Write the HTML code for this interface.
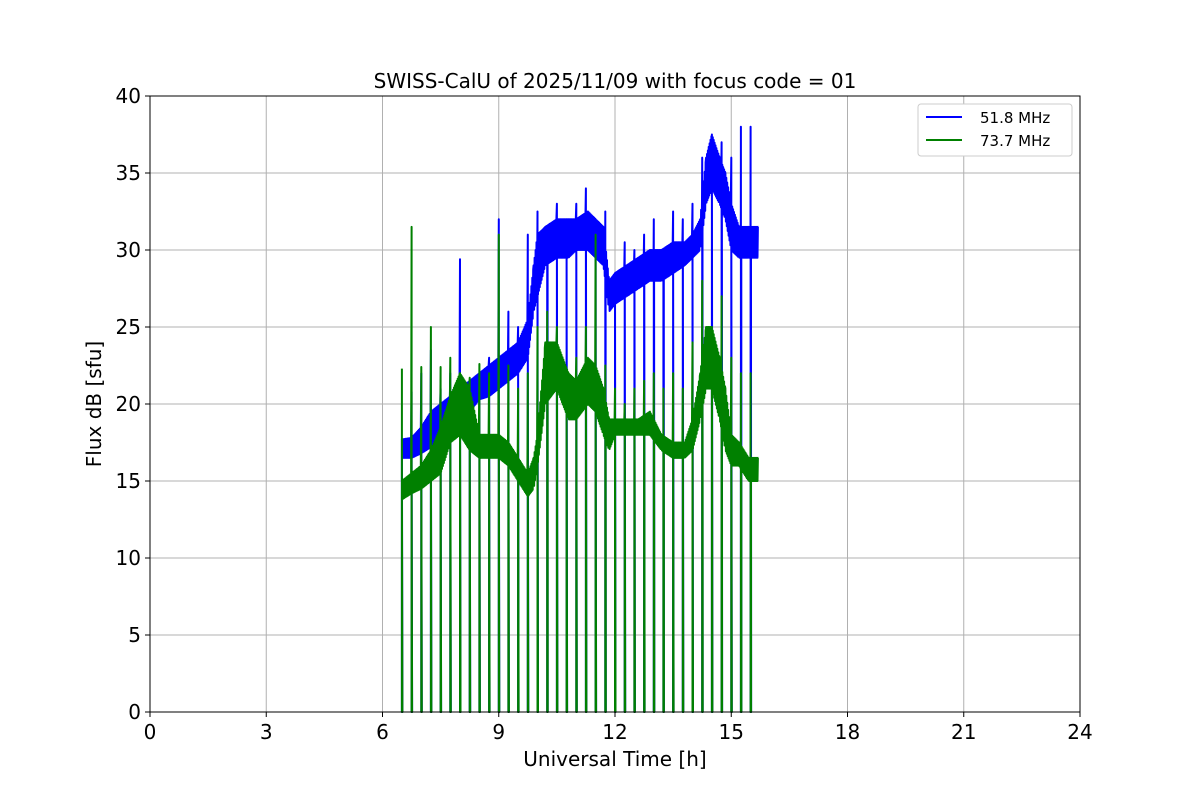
<!DOCTYPE html>
<html><head><meta charset="utf-8"><style>
body{margin:0;background:#fff;font-family:"Liberation Sans","DejaVu Sans",sans-serif}
svg text{font-family:"DejaVu Sans","Liberation Sans",sans-serif}
</style></head><body>
<svg id="chart" width="1200" height="800" xmlns="http://www.w3.org/2000/svg"></svg>
<script>
const xTicks=[0,3,6,9,12,15,18,21,24];
const yTicks=[0,5,10,15,20,25,30,35,40];
const times=[6.5,6.75,7.0,7.25,7.5,7.75,8.0,8.25,8.5,8.75,9.0,9.25,9.5,9.75,9.9,10.0,10.2,10.5,10.8,11.0,11.3,11.5,11.7,11.85,12.0,12.3,12.6,12.9,13.2,13.5,13.8,14.0,14.2,14.35,14.5,14.7,14.85,15.0,15.2,15.45,15.7];
const blueLo=[16.5,16.5,16.8,17.2,17.8,18.5,19,19.5,20.3,20.5,21,21.5,22,23,26,27,29,29.5,29.5,30,30,29.5,29,26,26.5,27,27.5,28,28,28.5,29,29.5,30,33,34,33,32,30,29.5,29.5,29.5];
const blueHi=[17.7,17.8,18.5,19.5,20,20.5,21,21.5,22,22.5,23,23.5,24,25.5,29,31,31.5,32,32,32,32.5,32,31.5,28,28.5,29,29.5,30,30,30.5,30.5,31,32,36,37.5,36,35,33,31.5,31.5,31.5];
const greenLo=[13.8,14.2,14.5,15,15.5,17.5,18,17,16.5,16.5,16.5,16,15,14,14.5,16,20,21,19,19,20,19.5,18,17,18,18,18,18,17,16.5,16.5,17,19,21,21,19,17,16,16,15,15];
const greenHi=[15,15.5,16,17,18.5,20.5,22,21,18,18,18,17.5,16.5,15.5,16.5,18,24,24,22,21.5,23,22.5,21,19,19,19,19,19.5,18,17.5,17.5,19,22,25,25,23,21,18,17.5,16.5,16.5];
const spikeStart=6.5, spikeStep=0.25;
const bluePeaks=[17.7,20.8,22,23.5,21,22,29.4,21,22,23,32,26,25,31,32.5,31,33,32,33,34,31,32.5,28,30.5,30,31,32,30,32.5,32,33,36,36.5,37,36,38,38];
const greenPeaks=[22.3,31.5,22.4,25,22.4,23,22,21.7,22.6,22,31,22.5,21,22,25,26,25,21.5,23,25,31,22.5,21,20,21,21.5,22,21,22,21,24,28,25,27,23,22,22];
const svg=document.getElementById('chart');
const NS='http://www.w3.org/2000/svg';
const L=150,R=1080,T=96,B=712;
const xs=t=>L+(t/24)*(R-L);
const ys=v=>B-(v/40)*(B-T);
function mk(tag,attrs){const e=document.createElementNS(NS,tag);for(const k in attrs)e.setAttribute(k,attrs[k]);svg.appendChild(e);return e;}
// grid
xTicks.forEach(t=>{const g=mk('line',{x1:xs(t),x2:xs(t),y1:T,y2:B,stroke:'#b0b0b0','stroke-width':1});

});
yTicks.forEach(v=>{const g=mk('line',{x1:L,x2:R,y1:ys(v),y2:ys(v),stroke:'#b0b0b0','stroke-width':1});

});
function series(lo,hi,peaks,color,name){
  let pts=[];
  const nSp=peaks.length;
  const spikes=peaks.map((p,i)=>spikeStart+i*spikeStep);
  let si=0;
  for(let i=0;i<times.length;i++){
    const t0=times[i], t1=i+1<times.length?times[i+1]:t0;
    const n=Math.max(1,Math.round((t1-t0)/0.012));
    for(let j=0;j<n;j++){
      const t=t0+(t1-t0)*j/n;
      while(si<nSp&&spikes[si]<=t){
        const st=spikes[si];
        pts.push([xs(st),ys(peaks[si])]);pts.push([xs(st),ys(0)]);pts.push([xs(st)+0.5,ys(0)]);
        si++;
      }
      const a=j/n;
      const l=lo[i]+(i+1<times.length?(lo[i+1]-lo[i])*a:0);
      const h=hi[i]+(i+1<times.length?(hi[i+1]-hi[i])*a:0);
      pts.push([xs(t),ys(j%2?l:h)]);
      if(i+1>=times.length)break;
    }
  }
  const p=mk('polyline',{points:pts.map(q=>q[0].toFixed(1)+','+q[1].toFixed(1)).join(' '),fill:'none',stroke:color,'stroke-width':2,'stroke-linejoin':'round'});
  
  
}
series(blueLo,blueHi,bluePeaks,'#0000ff','series-51-8-mhz');
series(greenLo,greenHi,greenPeaks,'#008000','series-73-7-mhz');
// frame
const fr=mk('rect',{x:L,y:T,width:R-L,height:B-T,fill:'none',stroke:'#000','stroke-width':1});


xTicks.forEach(t=>{mk('line',{x1:xs(t),x2:xs(t),y1:B,y2:B+5,stroke:'#000'});
const tx=mk('text',{x:xs(t),y:B+27,'font-size':20,'text-anchor':'middle'});tx.textContent=t;

});
yTicks.forEach(v=>{mk('line',{x1:L-5,x2:L,y1:ys(v),y2:ys(v),stroke:'#000'});
const tx=mk('text',{x:L-9,y:ys(v)+7,'font-size':20,'text-anchor':'end'});tx.textContent=v;

});
let e;
e=mk('text',{x:615,y:88,'font-size':20,'text-anchor':'middle'});e.textContent='SWISS-CalU of 2025/11/09 with focus code = 01';


e=mk('text',{x:615,y:766,'font-size':20,'text-anchor':'middle'});e.textContent='Universal Time [h]';


e=mk('text',{x:101,y:404,'font-size':20,'text-anchor':'middle',transform:'rotate(-90 101 404)'});e.textContent='Flux dB [sfu]';


e=mk('rect',{x:918,y:104,width:154,height:52,rx:3,fill:'#fff',stroke:'#ccc'});


mk('line',{x1:926,x2:962,y1:117,y2:117,stroke:'#0000ff','stroke-width':2});
e=mk('text',{x:980,y:123,'font-size':15});e.textContent='51.8 MHz';


mk('line',{x1:926,x2:962,y1:140,y2:140,stroke:'#008000','stroke-width':2});
e=mk('text',{x:980,y:146,'font-size':15});e.textContent='73.7 MHz';


</script>
</body></html>
